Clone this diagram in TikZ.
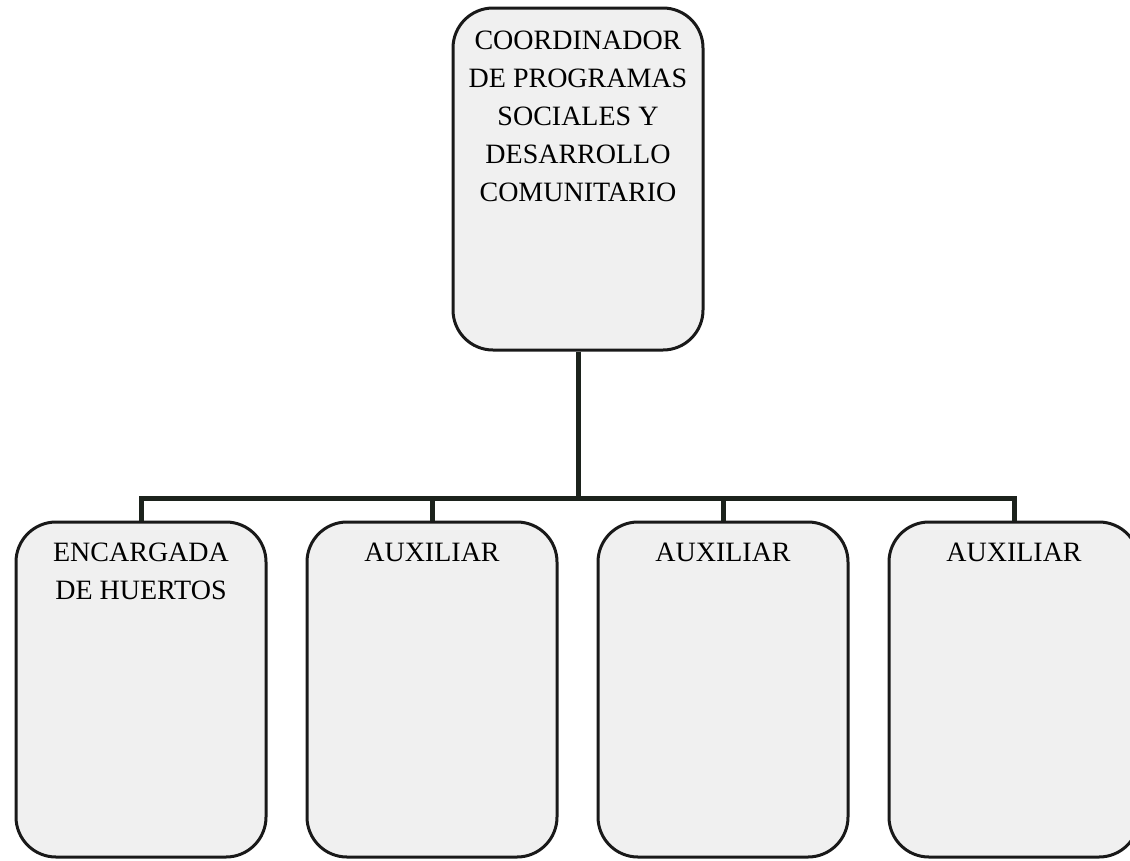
\documentclass[tikz,border=0pt]{standalone}
\usepackage{fontspec}
\setmainfont{Liberation Serif}
\usetikzlibrary{positioning}
\definecolor{gris}{RGB}{28,34,28}

\begin{document}
\begin{tikzpicture}[x=1pt,y=-1pt,
  caja/.style={draw=black!90, line width=3pt, fill=black!6, rounded corners=40pt,
    minimum width=250pt, inner sep=0pt},
  texto/.style={anchor=north, align=center, inner sep=0pt,
    font=\fontsize{28}{38}\selectfont},
  linea/.style={draw=gris, line width=5pt}]

\clip (0,0) rectangle (1130,860);

% cajas
\node[caja, minimum height=342pt] (coord) at (578,179) {};
\node[caja, minimum height=335pt] (b1) at (141,689.5) {};
\node[caja, minimum height=335pt] (b2) at (432,689.5) {};
\node[caja, minimum height=335pt] (b3) at (723,689.5) {};
\node[caja, minimum height=335pt] (b4) at (1014,689.5) {};

% textos
\node[texto] (tcoord) at ([yshift=-24pt]coord.north) {COORDINADOR\\DE PROGRAMAS\\SOCIALES Y\\DESARROLLO\\COMUNITARIO};
\node[texto] (tb1) at ([yshift=-22pt]b1.north) {ENCARGADA\\DE HUERTOS};
\node[texto] (tb2) at ([yshift=-22pt]b2.north) {AUXILIAR};
\node[texto] (tb3) at ([yshift=-22pt]b3.north) {AUXILIAR};
\node[texto] (tb4) at ([yshift=-22pt]b4.north) {AUXILIAR};

% lineas
\coordinate (bus) at (578,498);
\foreach \i in {1,2,3,4}
  \coordinate (bus\i) at (b\i.north |- bus);

\draw[linea] (coord.south) -- (bus);
\draw[linea] (b1.north) -- (bus1) -- (bus4) -- (b4.north);
\draw[linea] (b2.north) -- (bus2);
\draw[linea] (b3.north) -- (bus3);
\end{tikzpicture}
\end{document}
